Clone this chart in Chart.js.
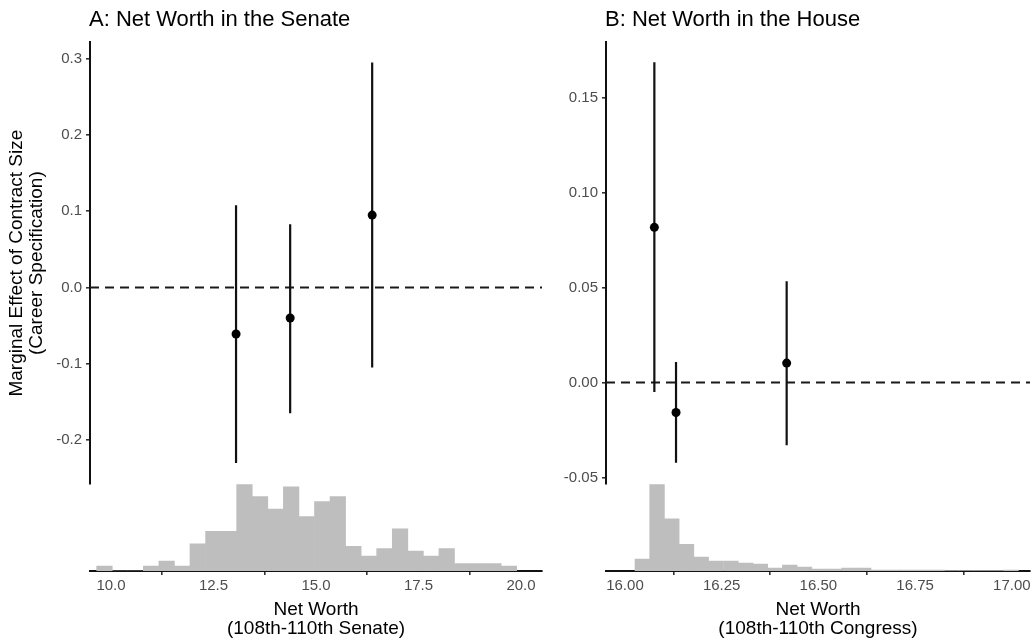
<!DOCTYPE html>
<html>
<head>
<meta charset="utf-8">
<script src="https://cdn.jsdelivr.net/npm/chart.js@4/dist/chart.umd.min.js"></script>
<style>
  body { margin: 0; background: #fff; }
  #wrap { position: relative; width: 1036px; height: 642px; font-family: "Liberation Sans", Arial, sans-serif; }
  canvas { position: absolute; top: 0; }
  .ptitle { position: absolute; top: 8px; font-size: 22px; line-height: 22px; color: #000; white-space: nowrap; }
</style>
</head>
<body>
<div id="wrap">
  <canvas id="senate" width="548" height="642" style="left:0"></canvas>
  <canvas id="house" width="488" height="642" style="left:548px"></canvas>
  <div class="ptitle" style="left:89px">A: Net Worth in the Senate</div>
  <div class="ptitle" style="left:605px">B: Net Worth in the House</div>
</div>
<script>
// Panel A: Senate
const senateX = [13.05, 14.37, 16.37];
const senateEst = [-0.061, -0.040, 0.095];
const senateLo = [-0.230, -0.165, -0.105];
const senateHi = [0.108, 0.083, 0.295];
const senateBins = [9.841, 10.220, 10.599, 10.979, 11.358, 11.738, 12.117, 12.497, 12.876, 13.255,
                    13.635, 14.014, 14.394, 14.773, 15.153, 15.532, 15.911, 16.291, 16.670, 17.050,
                    17.429, 17.809, 18.188, 18.567, 18.947, 19.326, 19.706];
const senateCounts = [2, 0, 0, 2, 4, 2, 11, 16, 16, 35, 30, 25, 34, 22, 28, 30, 10, 6, 9, 17,
                      8, 6, 9, 3, 3, 3, 2];
const senateXTicks = [10, 12.5, 15, 17.5, 20];
const senateYTicks = [-0.2, -0.1, 0, 0.1, 0.2, 0.3];

// Panel B: House
const houseX = [16.076, 16.132, 16.418];
const houseEst = [0.0817, -0.0158, 0.0102];
const houseLo = [-0.005, -0.0423, -0.033];
const houseHi = [0.1687, 0.0108, 0.0533];
const houseBins = [16.045, 16.083, 16.121, 16.159, 16.197, 16.235, 16.274, 16.312, 16.350, 16.388,
                   16.426, 16.464, 16.502, 16.540, 16.579, 16.617, 16.655, 16.693, 16.731, 16.769,
                   16.807, 16.845, 16.883, 16.921, 16.960, 16.998];
const houseCounts = [24, 176, 106, 54, 28, 20, 20, 16, 14, 6, 12, 8, 4, 4, 6, 6, 2, 2, 2, 2,
                     2, 1, 1, 1, 1, 2];
const houseXTicks = [16, 16.25, 16.5, 16.75, 17];
const houseYTicks = [-0.05, 0, 0.05, 0.10, 0.15];

const FONT = '"Liberation Sans", Arial, sans-serif';
const tickColor = '#4d4d4d';
const lineColor = '#111';

function makePanel(id, p) {
  const bars = [];
  for (let i = 0; i < p.x.length; i++) {
    bars.push({x: p.x[i], y: p.lo[i]}, {x: p.x[i], y: p.hi[i]}, {x: p.x[i], y: null});
  }
  const axisGrid = {display: true, drawOnChartArea: false, drawTicks: true, tickLength: 4, color: '#333', lineWidth: 1.6};
  const axisBorder = {display: true, color: lineColor, width: 2};

  return new Chart(document.getElementById(id), {
    type: 'scatter',
    data: {
      datasets: [
        {
          type: 'scatter',
          data: p.x.map((v, i) => ({x: v, y: p.est[i]})),
          pointRadius: 4.5,
          pointBackgroundColor: '#000',
          pointBorderWidth: 0,
          order: 0
        },
        {
          type: 'line',
          data: bars,
          borderColor: lineColor,
          borderWidth: 2.2,
          pointRadius: 0,
          spanGaps: false,
          order: 1
        },
        {
          type: 'line',
          data: [{x: p.xMin, y: 0}, {x: p.xMax, y: 0}],
          borderColor: '#1a1a1a',
          borderWidth: 2,
          borderDash: [9, 6],
          pointRadius: 0,
          order: 2
        },
        {
          type: 'bar',
          data: p.bins.map((v, i) => ({x: v, y: p.counts[i]})),
          yAxisID: 'yh',
          backgroundColor: '#bebebe',
          borderWidth: 0,
          barPercentage: 1,
          categoryPercentage: 1,
          order: 3
        }
      ]
    },
    options: {
      responsive: false,
      animation: false,
      layout: {padding: {top: 42, right: 6, bottom: 0, left: 0}},
      plugins: {legend: {display: false}, tooltip: {enabled: false}},
      scales: {
        x: {
          type: 'linear',
          min: p.xMin,
          max: p.xMax,
          offset: false,
          grid: axisGrid,
          border: axisBorder,
          afterBuildTicks: s => { s.ticks = p.xTicks.map(v => ({value: v})); },
          afterFit: s => { s.height = 71; },
          ticks: {
            color: tickColor,
            font: {family: FONT, size: 15},
            padding: 2,
            maxRotation: 0,
            callback: v => v.toFixed(p.xDec)
          },
          title: {
            display: true,
            text: ['Net Worth', p.xTitle],
            color: '#000',
            font: {family: FONT, size: 19, lineHeight: 1.0},
            padding: {top: 0, bottom: 4}
          }
        },
        y: {
          type: 'linear',
          position: 'left',
          stack: 'panel',
          stackWeight: 442.5,
          weight: 2,
          min: p.yMin,
          max: p.yMax,
          grid: axisGrid,
          border: axisBorder,
          afterBuildTicks: s => { s.ticks = p.yTicks.map(v => ({value: v})); },
          afterFit: s => { s.width = p.yWidth; },
          ticks: {
            color: tickColor,
            font: {family: FONT, size: 15},
            padding: 4,
            callback: v => v.toFixed(p.yDec)
          },
          title: {
            display: !!p.yTitle,
            text: p.yTitle,
            color: '#000',
            font: {family: FONT, size: 19, lineHeight: 1.05},
            padding: {top: 7, bottom: 0}
          }
        },
        yh: {
          type: 'linear',
          position: 'left',
          stack: 'panel',
          stackWeight: 86.8,
          weight: 1,
          min: 0,
          max: p.histMax,
          grid: {display: false},
          border: {display: false},
          ticks: {display: false}
        }
      }
    }
  });
}

makePanel('senate', {
  x: senateX, est: senateEst, lo: senateLo, hi: senateHi,
  bins: senateBins, counts: senateCounts, histMax: 35,
  xMin: 9.488, xMax: 20.512, xTicks: senateXTicks, xDec: 1,
  yMin: -0.258, yMax: 0.322, yTicks: senateYTicks, yDec: 1,
  yWidth: 90,
  xTitle: '(108th-110th Senate)',
  yTitle: ['Marginal Effect of Contract Size', '(Career Specification)']
});

makePanel('house', {
  x: houseX, est: houseEst, lo: houseLo, hi: houseHi,
  bins: houseBins, counts: houseCounts, histMax: 176,
  xMin: 15.951, xMax: 17.047, xTicks: houseXTicks, xDec: 2,
  yMin: -0.0536, yMax: 0.1793, yTicks: houseYTicks, yDec: 2,
  yWidth: 58,
  xTitle: '(108th-110th Congress)',
  yTitle: null
});
</script>
</body>
</html>
